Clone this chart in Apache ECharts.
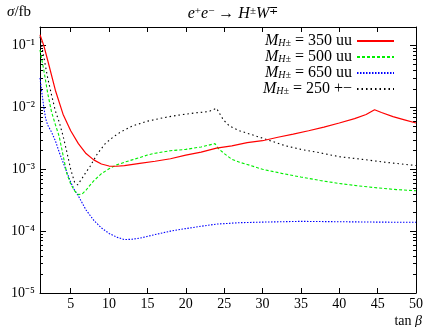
<!DOCTYPE html>
<html>
<head>
<meta charset="utf-8">
<script src="https://cdn.jsdelivr.net/npm/echarts@6/dist/echarts.min.js"></script>
<style>
  html, body { margin: 0; padding: 0; background: #fff; }
  #chart { width: 432px; height: 327px; }
</style>
</head>
<body>
<div id="chart"></div>
<script>
// tan(beta) ticks and y decades
const xTicks = [5, 10, 15, 20, 25, 30, 35, 40, 45, 50];
const yDecades = [1e-5, 1e-4, 1e-3, 1e-2, 1e-1];
const yLabels = ["10⁻⁵", "10⁻⁴", "10⁻³", "10⁻²", "10⁻¹"];

const seriesNames = ["350 uu", "500 uu", "650 uu", "250 +−"];

// M_H = 350 uu (red, solid)
const redTan = [1, 1.5, 2, 3, 4, 5, 6, 7, 8, 9, 10, 11, 12, 14, 16, 18, 20, 22, 24, 26, 28, 30, 32, 34, 36, 38, 40, 42, 43.5, 44.6, 45.5, 47, 48.5, 50];
const redSigma = [0.15, 0.1, 0.058, 0.019, 0.0078, 0.0042, 0.0026, 0.0018, 0.00142, 0.00122, 0.00113, 0.00112, 0.00115, 0.00125, 0.00135, 0.00148, 0.0017, 0.0019, 0.0022, 0.0024, 0.0027, 0.0029, 0.0033, 0.0037, 0.0042, 0.0048, 0.0056, 0.0066, 0.0077, 0.0092, 0.0083, 0.0071, 0.0063, 0.0056];

// M_H = 500 uu (green, dashed)
const greenTan = [1, 1.5, 2, 2.5, 3, 3.5, 4, 4.5, 5, 5.5, 6, 6.5, 7, 7.5, 8, 9, 10, 11, 12, 13, 14, 15, 16, 18, 20, 22, 23.8, 24.2, 25, 26, 27, 28, 30, 32.5, 35, 37.5, 40, 42.5, 45, 47.5, 50];
const greenSigma = [0.085, 0.04, 0.017, 0.0085, 0.0053, 0.0034, 0.0017, 0.00085, 0.00058, 0.00045, 0.00039, 0.0004, 0.00046, 0.00055, 0.00065, 0.00085, 0.00102, 0.00118, 0.0013, 0.00142, 0.00155, 0.0017, 0.00182, 0.002, 0.0021, 0.0023, 0.0026, 0.0022, 0.0018, 0.00145, 0.0013, 0.0012, 0.001, 0.00086, 0.00075, 0.00066, 0.00059, 0.00054, 0.0005, 0.00047, 0.00045];

// M_H = 650 uu (blue, dotted)
const blueTan = [1, 1.25, 1.5, 1.75, 2, 2.5, 3, 3.5, 4, 4.5, 5, 5.5, 6, 7, 8, 9, 10, 11, 12, 13, 14, 16, 18, 20, 22, 24, 27, 30, 35, 40, 45, 50];
const blueSigma = [0.03, 0.017, 0.01, 0.0065, 0.0052, 0.004, 0.0029, 0.0019, 0.0013, 0.0009, 0.00062, 0.00046, 0.00037, 0.00022, 0.00015, 0.000113, 0.000092, 0.00008, 0.000073, 0.000074, 0.000077, 0.000088, 0.0001, 0.00011, 0.00012, 0.00013, 0.000137, 0.00014, 0.000144, 0.000142, 0.00014, 0.000139];

// M_H = 250 +- (black, sparse dots)
const blackTan = [1, 1.5, 2, 2.5, 3, 3.5, 4, 4.5, 5, 5.5, 5.9, 6.5, 7, 7.5, 8.5, 9.5, 10.5, 11.5, 13, 15, 17, 19, 21, 23, 24, 24.9, 25.7, 27, 29, 31, 33, 35, 37, 40, 43, 46, 50];
const blackSigma = [0.14, 0.065, 0.03, 0.016, 0.0088, 0.0058, 0.0035, 0.0019, 0.001, 0.00062, 0.00056, 0.00072, 0.0009, 0.0011, 0.0018, 0.0026, 0.0033, 0.004, 0.005, 0.006, 0.0068, 0.0075, 0.0081, 0.0086, 0.0097, 0.0063, 0.005, 0.0042, 0.0035, 0.0029, 0.0024, 0.0021, 0.0019, 0.0016, 0.00145, 0.0013, 0.00115];

function pairs(xs, ys) {
    return xs.map((x, i) => [x, ys[i]]);
}

// minor log ticks 2..9 in every decade, up to the axis max
const yMinor = [];
yDecades.forEach(d => {
    for (let k = 2; k <= 9; k++) {
        if (d * k <= 0.2) yMinor.push(d * k);
    }
});

const serif = "Liberation Serif";
const chart = echarts.init(document.getElementById("chart"));

const baseX = {
    type: "value",
    min: 1,
    max: 50,
    axisLine: { show: true, lineStyle: { color: "#000", width: 1 } },
    axisTick: { show: true, inside: true, length: 5, customValues: xTicks, lineStyle: { color: "#000" } },
    splitLine: { show: false }
};

function logY(position, major, withLabels) {
    return {
        type: "log",
        logBase: 10,
        min: 1e-5,
        max: 0.2,
        position: position,
        axisLine: { show: major, lineStyle: { color: "#000", width: 1 } },
        axisTick: {
            show: true,
            inside: true,
            length: major ? 6 : 3,
            customValues: major ? yDecades : yMinor,
            lineStyle: { color: "#000" }
        },
        axisLabel: withLabels ? {
            show: true,
            customValues: yDecades,
            formatter: v => yLabels[Math.round(Math.log10(v)) + 5],
            fontFamily: serif,
            fontSize: 14,
            color: "#000",
            margin: 5
        } : { show: false },
        splitLine: { show: false }
    };
}

const legendText = {
    "350 uu": "{m|M}{s|H±}{t| = 350 uu}",
    "500 uu": "{m|M}{s|H±}{t| = 500 uu}",
    "650 uu": "{m|M}{s|H±}{t| = 650 uu}",
    "250 +−": "{m|M}{s|H±}{t| = 250 +−}"
};

chart.setOption({
    animation: false,
    backgroundColor: "#fff",
    grid: { left: 40, right: 16, top: 27, bottom: 34 },
    title: [
        {
            text: "{i|e}{p|+}{i|e}{p|−}{t| → }{i|H}{p|±}{i|W}{p|∓}",
            left: 228,
            textAlign: "center",
            top: 1,
            textStyle: {
                fontWeight: "normal",
                rich: {
                    i: { fontFamily: serif, fontStyle: "italic", fontWeight: "normal", fontSize: 16, color: "#000" },
                    p: { fontFamily: serif, fontWeight: "normal", fontSize: 11, color: "#000", verticalAlign: "top" },
                    t: { fontFamily: serif, fontWeight: "normal", fontSize: 16, color: "#000" }
                }
            }
        },
        {
            text: "{i|σ}{t|/fb}",
            left: 2,
            top: 0,
            textStyle: {
                fontWeight: "normal",
                rich: {
                    i: { fontFamily: serif, fontStyle: "italic", fontWeight: "normal", fontSize: 15, color: "#000" },
                    t: { fontFamily: serif, fontWeight: "normal", fontSize: 15, color: "#000" }
                }
            }
        },
        {
            text: "{t|tan }{i|β}",
            right: 5,
            top: 309,
            textStyle: {
                fontWeight: "normal",
                rich: {
                    i: { fontFamily: serif, fontStyle: "italic", fontWeight: "normal", fontSize: 14, color: "#000" },
                    t: { fontFamily: serif, fontWeight: "normal", fontSize: 14, color: "#000" }
                }
            }
        }
    ],
    legend: {
        orient: "vertical",
        right: 32,
        top: 28,
        align: "right",
        itemWidth: 37,
        itemHeight: 8,
        itemGap: 0,
        data: seriesNames,
        itemStyle: { opacity: 0 },
        formatter: name => legendText[name],
        textStyle: {
            lineHeight: 14,
            rich: {
                m: { fontFamily: serif, fontStyle: "italic", fontSize: 16, color: "#000" },
                s: { fontFamily: serif, fontStyle: "italic", fontSize: 10, color: "#000", verticalAlign: "bottom" },
                t: { fontFamily: serif, fontSize: 16, color: "#000" }
            }
        }
    },
    xAxis: [
        Object.assign({}, baseX, {
            position: "bottom",
            axisLabel: { show: true, customValues: xTicks, fontFamily: serif, fontSize: 14, color: "#000", margin: 4 }
        }),
        Object.assign({}, baseX, { position: "top", axisLabel: { show: false } })
    ],
    yAxis: [
        logY("left", true, true),
        logY("left", false, false),
        logY("right", true, false),
        logY("right", false, false)
    ],
    series: [
        {
            name: seriesNames[0],
            type: "line",
            symbol: "none",
            data: pairs(redTan, redSigma),
            lineStyle: { color: "#ff0000", width: 1.2, type: "solid" },
            itemStyle: { color: "#ff0000" },
            z: 5
        },
        {
            name: seriesNames[1],
            type: "line",
            symbol: "none",
            data: pairs(greenTan, greenSigma),
            lineStyle: { color: "#00ee00", width: 1.1, type: [3, 2] },
            itemStyle: { color: "#00ee00" },
            z: 4
        },
        {
            name: seriesNames[2],
            type: "line",
            symbol: "none",
            data: pairs(blueTan, blueSigma),
            lineStyle: { color: "#0000ff", width: 1.1, type: [1.5, 1.5] },
            itemStyle: { color: "#0000ff" },
            z: 3
        },
        {
            name: seriesNames[3],
            type: "line",
            symbol: "none",
            data: pairs(blackTan, blackSigma),
            lineStyle: { color: "#000", width: 1.1, type: [1.5, 3] },
            itemStyle: { color: "#000" },
            z: 2
        }
    ]
});
</script>
</body>
</html>
